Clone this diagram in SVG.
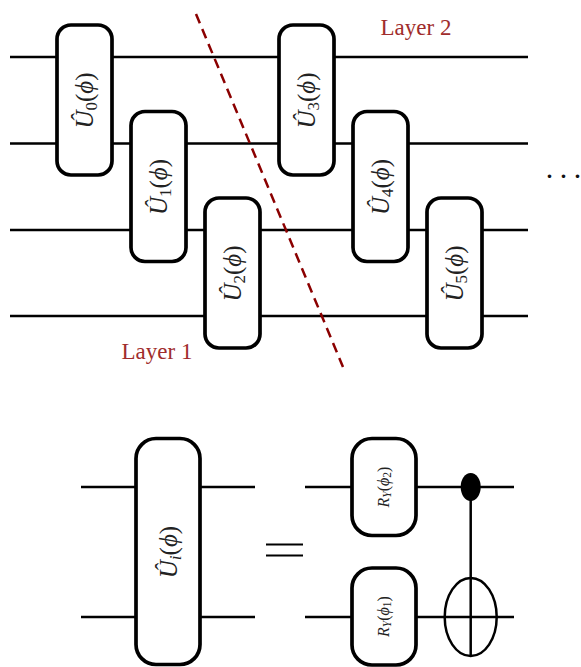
<svg xmlns="http://www.w3.org/2000/svg" width="581" height="667" viewBox="0 0 581 667">
<style>
.w{stroke:#000;stroke-width:2.5;fill:none}
.g{fill:#fff;stroke:#000;stroke-width:3.7}
.t{font-family:"Liberation Serif",serif;font-size:25px;fill:#222;text-anchor:middle}
.i{font-style:italic}
.s{font-size:17px}
.l{font-family:"Liberation Serif",serif;font-size:23px;fill:#a02c2c}
.r{font-size:16px}
.rs{font-size:11.5px}
</style>
<rect width="581" height="667" fill="#fff"/>
<g id="connectors">
<path class="w" d="M10 57H528M10 143.500H528M10 230H528M10 316H528"/>
<path class="w" d="M81 487H255M81 617H255M305 487H514M305 617H514"/>
<path d="M470.700 487V655" class="w"/>
</g>
<g id="U0"><rect class="g" x="57" y="25" width="55" height="150" rx="14"/><text class="t" transform="translate(93 100.500) rotate(-90)"><tspan class="i">Û</tspan><tspan class="s" dy="4">0</tspan><tspan dy="-4">(</tspan><tspan class="i">ϕ</tspan>)</text></g>
<g id="U1"><rect class="g" x="131" y="111.500" width="55" height="150" rx="14"/><text class="t" transform="translate(167 187) rotate(-90)"><tspan class="i">Û</tspan><tspan class="s" dy="4">1</tspan><tspan dy="-4">(</tspan><tspan class="i">ϕ</tspan>)</text></g>
<g id="U2"><rect class="g" x="205" y="198" width="55" height="150" rx="14"/><text class="t" transform="translate(241 273.500) rotate(-90)"><tspan class="i">Û</tspan><tspan class="s" dy="4">2</tspan><tspan dy="-4">(</tspan><tspan class="i">ϕ</tspan>)</text></g>
<g id="U3"><rect class="g" x="279" y="25" width="55" height="150" rx="14"/><text class="t" transform="translate(315 100.500) rotate(-90)"><tspan class="i">Û</tspan><tspan class="s" dy="4">3</tspan><tspan dy="-4">(</tspan><tspan class="i">ϕ</tspan>)</text></g>
<g id="U4"><rect class="g" x="353" y="111.500" width="55" height="150" rx="14"/><text class="t" transform="translate(389 187) rotate(-90)"><tspan class="i">Û</tspan><tspan class="s" dy="4">4</tspan><tspan dy="-4">(</tspan><tspan class="i">ϕ</tspan>)</text></g>
<g id="U5"><rect class="g" x="427" y="198" width="55" height="150" rx="14"/><text class="t" transform="translate(463 273.500) rotate(-90)"><tspan class="i">Û</tspan><tspan class="s" dy="4">5</tspan><tspan dy="-4">(</tspan><tspan class="i">ϕ</tspan>)</text></g>
<path id="divider" d="M196 14L343 367" fill="none" stroke="#8b0000" stroke-width="2.500" stroke-dasharray="10 6.200"/>
<text id="layer2" class="l" x="380.500" y="35">Layer 2</text>
<text id="layer1" class="l" x="121.500" y="359">Layer 1</text>
<text id="dots" x="544.500 558.500 572.500" y="186" style="font-family:'Liberation Serif',serif;font-size:30px;fill:#111">···</text>
<g id="Ui"><rect class="g" x="136" y="438.500" width="64" height="226" rx="20"/><text class="t" transform="translate(177 552) rotate(-90)"><tspan class="i">Û</tspan><tspan class="s i" dy="4">i</tspan><tspan dy="-4">(</tspan><tspan class="i">ϕ</tspan>)</text></g>
<g id="equals"><path d="M266 544.500H303M266 555.500H303" stroke="#000" stroke-width="2" fill="none"/></g>
<g id="RY2"><rect class="g" x="352" y="438.500" width="64" height="97" rx="20"/><text class="t r" transform="translate(389 487) rotate(-90)"><tspan class="i">R</tspan><tspan class="rs i" dy="2">Y</tspan><tspan dy="-2">(</tspan><tspan class="i">ϕ</tspan><tspan class="rs" dy="2">2</tspan><tspan dy="-2">)</tspan></text></g>
<g id="RY1"><rect class="g" x="352" y="568" width="64" height="97" rx="20"/><text class="t r" transform="translate(389 616.500) rotate(-90)"><tspan class="i">R</tspan><tspan class="rs i" dy="2">Y</tspan><tspan dy="-2">(</tspan><tspan class="i">ϕ</tspan><tspan class="rs" dy="2">1</tspan><tspan dy="-2">)</tspan></text></g>
<g id="control"><ellipse cx="470.700" cy="487" rx="10" ry="14" fill="#000"/></g>
<g id="target"><ellipse cx="470.700" cy="617" rx="26" ry="39" fill="none" stroke="#000" stroke-width="2.500"/></g>
</svg>
